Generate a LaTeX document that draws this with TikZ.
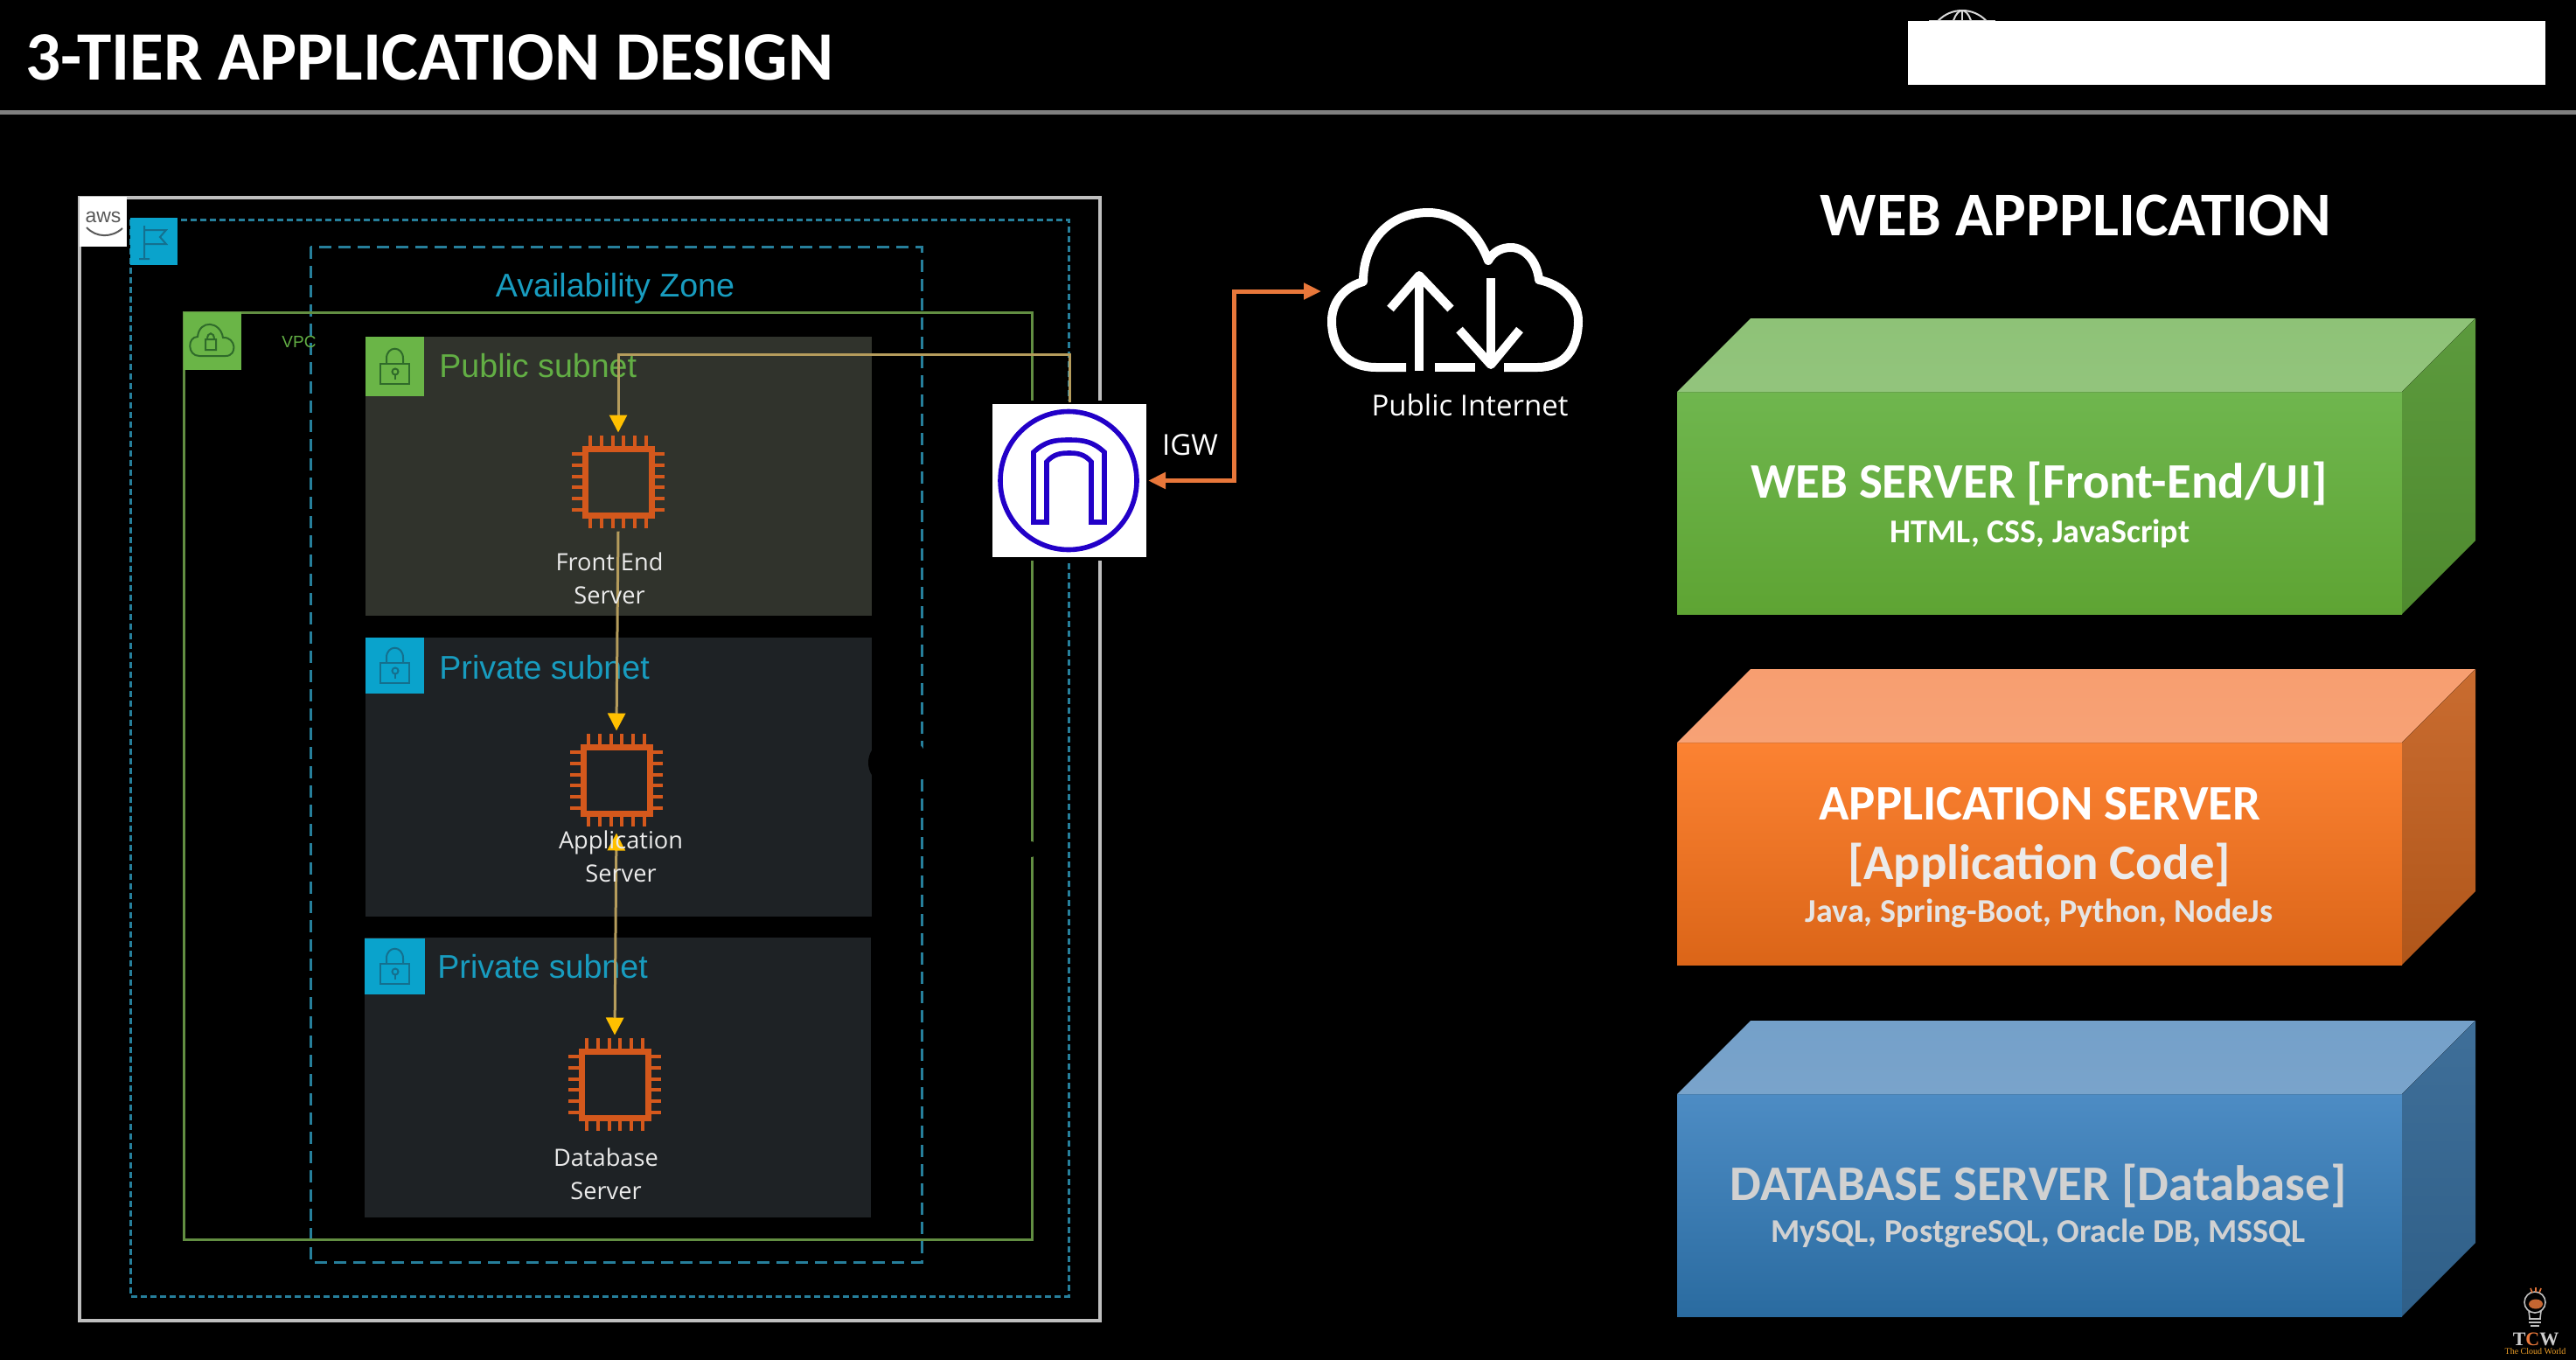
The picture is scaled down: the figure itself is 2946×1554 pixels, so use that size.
\documentclass[tikz,border=0pt]{standalone}
\usepackage{fontspec}
\setmainfont{Carlito}
\newfontfamily\awsfont{Liberation Sans}
\newfontfamily\labelfont{Open Sans}
\newfontfamily\logofont{Liberation Serif}
\usetikzlibrary{arrows.meta}
\usetikzlibrary{calc}
\definecolor{bluebox}{HTML}{0AA3CC}
\definecolor{blueink}{HTML}{14708F}
\definecolor{bluetext}{HTML}{189CBF}
\definecolor{dashteal}{HTML}{267F9B}
\definecolor{greenbox}{HTML}{6AB547}
\definecolor{greenink}{HTML}{2F6B2A}
\definecolor{greentext}{HTML}{62AE44}
\definecolor{vpcline}{HTML}{628E42}
\definecolor{pubfill}{HTML}{30332C}
\definecolor{privfill}{HTML}{1E2225}
\definecolor{chiporange}{HTML}{D4581C}
\definecolor{linegold}{HTML}{B59C5C}
\definecolor{tipgold}{HTML}{FFC000}
\definecolor{igwblue}{HTML}{2200C8}
\definecolor{linkorange}{HTML}{E8773A}
\tikzset{
	frameline/.style = {draw=black!25!white, line width=2pt},
	regionline/.style = {draw=dashteal, line width=1.5pt, dash pattern=on 3.5pt off 2pt},
	zoneline/.style = {draw=dashteal, line width=1.5pt, dash pattern=on 7pt off 4pt},
	vpcframe/.style = {draw=vpcline, line width=1.5pt},
	subnettext/.style = {font=\awsfont\fontsize{18.8}{22}\selectfont, anchor=west, inner sep=0},
	chip/.style = {minimum size=52.5pt, inner sep=0, outer sep=2pt},
	chipbody/.style = {draw=chiporange, line width=3.5pt},
	chippin/.style = {draw=chiporange, line width=2pt},
	servertext/.style = {font=\labelfont\fontsize{13.6}{19}\selectfont, text=white!92!black, align=center, inner sep=0},
	flow/.style = {draw=linegold, line width=1.5pt, -{Triangle[width=10pt,length=10pt,color=tipgold]}},
	duplex/.style = {draw=linegold, line width=1.5pt, {Triangle[width=10pt,length=10pt,color=tipgold]}-{Triangle[width=10pt,length=10pt,color=tipgold]}},
	link/.style = {draw=linkorange, line width=2.5pt, {Triangle[width=9pt,length=10pt]}-{Triangle[width=9pt,length=10pt]}},
	igwbox/.style = {draw=black, fill=white, line width=2pt, minimum width=90pt, minimum height=89.5pt, outer sep=0},
	igwline/.style = {draw=igwblue, line width=2.8pt},
	cloudline/.style = {draw=white, line width=5pt, line join=round},
	tierfront/.style = {minimum width=414.5pt, minimum height=127pt, inner sep=0, outer sep=0},
	tierhead/.style = {font=\bfseries\fontsize{28.4}{34}\selectfont, inner sep=0},
	tiersub/.style = {font=\bfseries\fontsize{19}{23}\selectfont, inner sep=0},
}
\newcommand{\lockicon}[2]{
	\begin{scope}[shift={#1}, draw=#2, line width=1pt]
		\draw (-16,-3) rectangle (17,20);
		\draw (-9,-3) -- (-9,-9) .. controls (-9,-24) and (10,-24) .. (10,-9) -- (10,-3);
		\draw (1,6) circle (3.5);
		\draw (1,9.5) -- (1,15);
	\end{scope}
}
\newcommand{\tierbox}[7]{
	\node[tierfront, top color=#3, bottom color=#4] (#1) at #2 {};
	\fill[top color=#5, bottom color=#5!96!white] (#1.north west) -- ($(#1.north west)+(84,-84)$) -- ($(#1.north east)+(84,-84)$) -- (#1.north east) -- cycle;
	\fill[top color=#6, bottom color=#7] (#1.north east) -- ($(#1.north east)+(84,-84)$) -- ($(#1.south east)+(84,-84)$) -- (#1.south east) -- cycle;
}
\definecolor{webfa}{HTML}{6FB64E}
\definecolor{webfb}{HTML}{5EA433}
\definecolor{webtop}{HTML}{8EC277}
\definecolor{webea}{HTML}{5C9A3D}
\definecolor{webeb}{HTML}{4F8A2F}
\definecolor{appfa}{HTML}{FC8232}
\definecolor{appfb}{HTML}{DB6518}
\definecolor{apptop}{HTML}{F79E70}
\definecolor{appea}{HTML}{C96C30}
\definecolor{appeb}{HTML}{B0561A}
\definecolor{dbfa}{HTML}{4D8CC4}
\definecolor{dbfb}{HTML}{2A6BA0}
\definecolor{dbtop}{HTML}{74A0C9}
\definecolor{dbea}{HTML}{3F6F99}
\definecolor{dbeb}{HTML}{2F5F88}
\begin{document}
\begin{tikzpicture}[x=0.5pt, y=-0.5pt]
	\useasboundingbox (0,0) rectangle (2946,1554);
	\fill[black] (-6,-6) rectangle (2952,1560);
	\node[font=\bfseries\fontsize{39.6}{46}\selectfont, text=white, anchor=west, inner sep=0] (title) at (29,66) {3-TIER APPLICATION DESIGN};
	\fill[black!50!white] (-6,126) rectangle (2952,131);
	\begin{scope}[draw=black!15!white, line width=1pt]
		\draw (2244,50) circle (38);
		\draw (2244,50) ellipse (14 and 38);
		\draw (2244,12) -- (2244,40);
		\draw (2206,24) -- (2282,24);
	\end{scope}
	\fill[white] (2182,24) rectangle (2911,97);

	\draw[frameline] (91,226) rectangle (1258,1510);
	\fill[white] (91,225) rectangle (145,282);
	\node[font=\awsfont\fontsize{11.5}{13}\selectfont, text=black!65!white, inner sep=0] (awstext) at (118,248) {aws};
	\draw[black!65!white, line width=1pt] (99,260) .. controls (110,272) and (128,272) .. (140,261);
	\draw[regionline] (149,251) rectangle (1222,1482);
	\fill[bluebox] (149,249) rectangle (203,303);
	\draw[blueink, line width=1pt] (165,296) -- (165,258) (159,296) -- (171,296) (165,263) -- (190,263) -- (183,271) -- (190,279) -- (165,279);
	\draw[zoneline] (355,282) rectangle (1054,1443);
	\node[subnettext, text=bluetext, anchor=center] (zone) at (703.5,330) {Availability Zone};
	\draw[vpcframe] (210,357) rectangle (1180,1417);
	\fill[greenbox] (210,357) rectangle (276,423);
	\draw[greenink, line width=1pt] (228,407) .. controls (214,407) and (214,385) .. (226,385) .. controls (228,365) and (252,367) .. (255,386) .. controls (270,385) and (272,407) .. (258,407) -- cycle;
	\draw[greenink, line width=1pt] (235,388) rectangle (247,400) (237,388) .. controls (237,379) and (245,379) .. (245,388);
	\node[font=\awsfont\fontsize{9.5}{11}\selectfont, text=greentext, inner sep=0] (vpc) at (342,391) {VPC};

	\fill[pubfill] (418,385) rectangle (997,704);
	\fill[privfill] (418,729) rectangle (997,1048);
	\fill[privfill] (417,1072) rectangle (996,1392);
	\fill[greenbox] (418,385) rectangle (485,453);
	\fill[bluebox] (418,729) rectangle (485,793);
	\fill[bluebox] (417,1073) rectangle (486,1137);
	\lockicon{(451,419)}{greenink}
	\lockicon{(451,761)}{blueink}
	\lockicon{(451,1105)}{blueink}
	\node[subnettext, text=greentext] (pubtext) at (502,418) {Public subnet};
	\node[subnettext, text=bluetext] (privtexta) at (502,763) {Private subnet};
	\node[subnettext, text=bluetext] (privtextb) at (500,1105) {Private subnet};

	\node[chip] (front) at (707,551) {};
	\node[chip] (app) at (705,892) {};
	\node[chip] (db) at (703,1240) {};
	\foreach \n in {front,app,db} {
		\draw[chipbody] ($(\n)+(-38,-38)$) rectangle ($(\n)+(38,38)$);
		\foreach \d in {-32,-19.2,-6.4,6.4,19.2,32} {
			\draw[chippin] ($(\n)+(\d,-41)$) -- ($(\n)+(\d,-53)$);
			\draw[chippin] ($(\n)+(\d,41)$) -- ($(\n)+(\d,53)$);
			\draw[chippin] ($(\n)+(-41,\d)$) -- ($(\n)+(-53,\d)$);
			\draw[chippin] ($(\n)+(41,\d)$) -- ($(\n)+(53,\d)$);
		}
	}

	\fill[black] (1027,872) ellipse (34 and 30);
	\fill[black] (1180,971) ellipse (4 and 9);
	\node[igwbox] (igw) at (1223,549.5) {};
	\draw[igwline] (1222,549.5) ellipse (78 and 79);
	\draw[igwline] (1182,597) -- (1182,517) .. controls (1195,505) and (1205,503) .. (1222,503) .. controls (1240,503) and (1250,505) .. (1263,517) -- (1263,597) -- (1248,597) -- (1248,528) .. controls (1240,519) and (1232,518) .. (1223,518) .. controls (1213,518) and (1205,519) .. (1197,528) -- (1197,597) -- cycle;

	\coordinate (gwturn) at (900,405);
	\draw[flow] (igw.north) |- (gwturn) -| (front.north);
	\draw[flow] (front.south) -- (app.north);
	\draw[duplex, shorten <=2pt] (app.south) -- (db.north);
	\node[servertext] (frontlabel) at (697,661) {Front End\\Server};
	\node[servertext] (applabel) at (710,979) {Application\\Server};
	\node[servertext] (dblabel) at (693,1342) {Database\\Server};

	\coordinate (cloudport) at (1511,333);
	\draw[link] (igw.east) -| (1411,333) -- (cloudport);
	\node[font=\labelfont\fontsize{16.5}{20}\selectfont, text=white, inner sep=0] (igwlabel) at (1361,509) {IGW};
	\draw[cloudline] (1608,420) -- (1574,420) .. controls (1540,420) and (1523,398) .. (1523,367) .. controls (1523,345) and (1538,328) .. (1559,322) .. controls (1559,275) and (1590,243) .. (1633,243) .. controls (1665,243) and (1690,265) .. (1702,298) .. controls (1708,287) and (1718,283) .. (1728,283) .. controls (1745,283) and (1758,300) .. (1760,320) .. controls (1785,325) and (1805,343) .. (1805,367) .. controls (1805,398) and (1790,420) .. (1758,420) -- (1720,420);
	\draw[cloudline] (1641,420) -- (1687,420);
	\draw[cloudline] (1623,424) -- (1623,317);
	\draw[cloudline] (1590,353) -- (1623,315) -- (1659,353);
	\draw[cloudline] (1705,318) -- (1705,412);
	\draw[cloudline] (1669,377) -- (1705,417) -- (1738,377);
	\node[font=\labelfont\fontsize{16.5}{20}\selectfont, text=white, inner sep=0] (inetlabel) at (1681,463) {Public Internet};

	\node[font=\bfseries\fontsize{35.5}{42}\selectfont, text=white, inner sep=0] (webapp) at (2374,246) {WEB APPPLICATION};
	\tierbox{webbox}{(2332.5,575)}{webfa}{webfb}{webtop}{webea}{webeb}
	\tierbox{appbox}{(2332.5,976)}{appfa}{appfb}{apptop}{appea}{appeb}
	\tierbox{dbbox}{(2332.5,1378)}{dbfa}{dbfb}{dbtop}{dbea}{dbeb}
	\node[tierhead, text=white] (webhead) at (2332,553) {WEB SERVER [Front-End/UI]};
	\node[tiersub, text=white] (websub) at (2333,610) {HTML, CSS, JavaScript};
	\node[tierhead, text=white] (apphead) at (2333,919) {APPLICATION SERVER};
	\node[tierhead, text=white!92!black] (appcode) at (2332,989) {[Application Code]};
	\node[tiersub, text=white!90!black] (appsub) at (2332,1044) {Java, Spring-Boot, Python, NodeJs};
	\node[tierhead, text=white!82!black] (dbhead) at (2331,1356) {DATABASE SERVER [Database]};
	\node[tiersub, text=white!82!black] (dbsub) at (2331,1410) {MySQL, PostgreSQL, Oracle DB, MSSQL};

	\draw[black!25!white, line width=0.8pt] (2899,1489) circle (12);
	\draw[black!25!white, line width=0.8pt] (2892,1499) -- (2893,1507) (2906,1499) -- (2905,1507);
	\draw[black!25!white, line width=1pt] (2892,1508) -- (2906,1508) (2892,1512) -- (2906,1512) (2894,1516) -- (2904,1516);
	\fill[linkorange!85!black] (2900,1491) ellipse (8 and 5.5);
	\draw[linkorange, line width=0.8pt] (2894,1473) -- (2896,1478) (2900,1472) -- (2900,1477) (2906,1473) -- (2904,1478);
	\node[font=\logofont\bfseries\fontsize{11}{12}\selectfont, text=black!20!white, inner sep=0] (tcw) at (2900,1531) {T\textcolor{linkorange}{C}W};
	\node[font=\logofont\fontsize{5}{6}\selectfont, text=linkorange!70!yellow, inner sep=0] (tcwsub) at (2899.5,1545) {The Cloud World};
\end{tikzpicture}
\end{document}
